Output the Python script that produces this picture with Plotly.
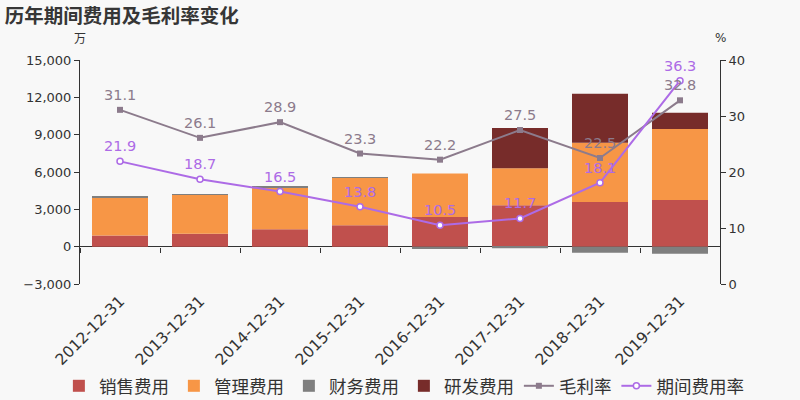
import plotly.graph_objects as go

categories = ["2012-12-31", "2013-12-31", "2014-12-31", "2015-12-31",
              "2016-12-31", "2017-12-31", "2018-12-31", "2019-12-31"]
sales = [906, 1040, 1390, 1730, 2375, 3335, 3580, 3740]          # 销售费用
admin = [3079, 3150, 3390, 3805, 3505, 2965, 4780, 5720]         # 管理费用
finance = [40, 30, 50, 20, -190, -130, -485, -560]               # 财务费用
rnd = [0, 0, 0, 0, 0, 3240, 3930, 1310]                          # 研发费用
gross_margin = [31.1, 26.1, 28.9, 23.3, 22.2, 27.5, 22.5, 32.8]  # 毛利率
expense_rate = [21.9, 18.7, 16.5, 13.8, 10.5, 11.7, 18.1, 36.3]  # 期间费用率

FONT = "DejaVu Sans, Noto Sans CJK SC, sans-serif"
CJK = "Noto Sans CJK SC, sans-serif"
GM_COLOR = "#8c7b8c"
ER_COLOR = "#ad6be6"

fig = go.Figure()
for name, vals, color in [("销售费用", sales, "#c0504d"),
                          ("管理费用", admin, "#f79646"),
                          ("财务费用", finance, "#7f7f7f"),
                          ("研发费用", rnd, "#772c2a")]:
    fig.add_trace(go.Bar(x=categories, y=vals, name=name, marker_color=color,
                         marker_line_width=0, xaxis="x", yaxis="y"))

fig.add_trace(go.Scatter(x=categories, y=gross_margin, name="毛利率", mode="lines+markers",
                         line=dict(color=GM_COLOR, width=2),
                         marker=dict(symbol="square", size=6, color=GM_COLOR),
                         xaxis="x2", yaxis="y2"))
fig.add_trace(go.Scatter(x=categories, y=expense_rate, name="期间费用率", mode="lines+markers",
                         line=dict(color=ER_COLOR, width=2),
                         marker=dict(symbol="circle", size=6, color="white",
                                     line=dict(color=ER_COLOR, width=1.5)),
                         xaxis="x2", yaxis="y2"))

annotations = []
for series, color in [(gross_margin, GM_COLOR), (expense_rate, ER_COLOR)]:
    for c, v in zip(categories, series):
        annotations.append(dict(x=c, y=v, xref="x2", yref="y2", text=f"{v:.1f}",
                                showarrow=False, yshift=15, yanchor="middle",
                                font=dict(family=FONT, size=14.5, color=color)))
annotations += [
    dict(text="万", x=0, y=1 + 22 / 224, xref="paper", yref="paper",
         showarrow=False, xanchor="center", yanchor="middle",
         font=dict(family=CJK, size=12, color="#333333")),
    dict(text="%", x=1, y=1 + 22 / 224, xref="paper", yref="paper", showarrow=False,
         xanchor="center", yanchor="middle",
         font=dict(family=FONT, size=12, color="#333333")),
]

zero_pos = 3000 / 18000

fig.update_layout(
    width=800, height=400,
    paper_bgcolor="#f8f8f8", plot_bgcolor="#f8f8f8",
    margin=dict(l=80, r=80, t=60, b=116, autoexpand=False),
    barmode="relative", bargap=0.3,
    font=dict(family=FONT, color="#333333", size=13),
    title=dict(text="<b>历年期间费用及毛利率变化</b>", x=0.006, xanchor="left",
               y=0.96, yanchor="middle", xref="container", yref="container",
               font=dict(family=CJK, size=19.5, color="#363636")),
    xaxis=dict(type="category", categoryorder="array", categoryarray=categories,
               range=[-0.5, 7.5], showline=False, ticks="", showgrid=False,
               tickangle=-45, tickfont=dict(size=15.5, color="#333333"),
               ticklabelstandoff=4, automargin=False),
    xaxis2=dict(type="category", categoryorder="array", categoryarray=categories,
                range=[-0.5, 7.5], overlaying="x", anchor="free", position=zero_pos,
                showticklabels=False, ticks="outside", ticklen=5, tickcolor="#333333",
                tickson="boundaries", showline=False, showgrid=False),
    yaxis=dict(range=[-3000, 15000], dtick=3000, tick0=0, tickformat=",",
               showline=True, linecolor="#333333", ticks="outside", ticklen=5,
               tickcolor="#333333", showgrid=False, zeroline=True,
               zerolinecolor="#333333", zerolinewidth=1, automargin=False),
    yaxis2=dict(range=[0, 40], dtick=10, overlaying="y", side="right", anchor="x",
                showline=True, linecolor="#333333", ticks="outside", ticklen=5,
                tickcolor="#333333", showgrid=False, zeroline=False, automargin=False),
    legend=dict(orientation="h", x=-0.033, xanchor="left", y=-0.455, yanchor="middle",
                font=dict(family=CJK, size=17.5, color="#333333"),
                bgcolor="rgba(0,0,0,0)", itemwidth=30, traceorder="normal"),
    annotations=annotations,
)

fig.write_html("out.html", post_script="document.body.style.margin='0';",
               config={"displayModeBar": False})
